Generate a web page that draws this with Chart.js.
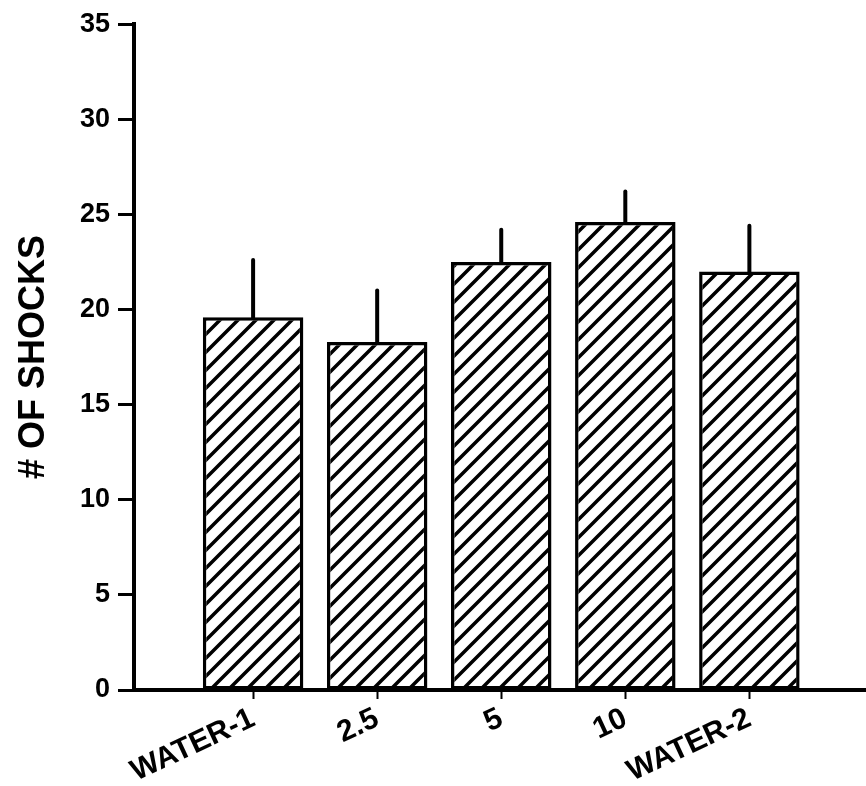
<!DOCTYPE html>
<html>
<head>
<meta charset="utf-8">
<script src="https://cdn.jsdelivr.net/npm/chart.js@4/dist/chart.umd.min.js"></script>
<style>
  html, body { margin: 0; padding: 0; background: #fff; }
  #wrap { width: 866px; height: 786px; }
</style>
</head>
<body>
<div id="wrap"><canvas id="c" width="866" height="786"></canvas></div>
<script>
// Groups along the x axis
const categories = ['WATER-1', '2.5', '5', '10', 'WATER-2'];
// Mean number of shocks per group
const shocks = [19.6, 18.3, 22.5, 24.6, 22.0];
// Standard error (drawn upward only)
const shockErrors = [3.0, 2.7, 1.7, 1.6, 2.4];
// Y axis ticks
const yTicks = [0, 5, 10, 15, 20, 25, 30, 35];

const INK = '#000';

// Diagonal "/" hatching used to fill the bars
function makeHatch() {
  const s = 18;
  const p = document.createElement('canvas');
  p.width = s; p.height = s;
  const g = p.getContext('2d');
  g.fillStyle = '#fff';
  g.fillRect(0, 0, s, s);
  g.strokeStyle = INK;
  g.lineWidth = 3.5;
  g.lineCap = 'square';
  g.beginPath();
  g.moveTo(-2, s + 2); g.lineTo(s + 2, -2);
  g.moveTo(-2, 2); g.lineTo(2, -2);
  g.moveTo(s - 2, s + 2); g.lineTo(s + 2, s - 2);
  g.stroke();
  return g.createPattern(p, 'repeat');
}

// Upward error whiskers from the top of each bar
const errorWhiskers = {
  id: 'errorWhiskers',
  afterDatasetsDraw(chart) {
    const ctx = chart.ctx;
    const yScale = chart.scales.y;
    const meta = chart.getDatasetMeta(0);
    ctx.save();
    ctx.strokeStyle = INK;
    ctx.lineWidth = 4;
    ctx.lineCap = 'round';
    meta.data.forEach((bar, i) => {
      const top = yScale.getPixelForValue(shocks[i] + shockErrors[i]);
      ctx.beginPath();
      ctx.moveTo(bar.x, bar.y);
      ctx.lineTo(bar.x, top);
      ctx.stroke();
    });
    ctx.restore();
  }
};

const labelFont = { family: '"Liberation Sans", Arial, sans-serif', weight: 'bold' };

new Chart(document.getElementById('c'), {
  type: 'bar',
  data: {
    datasets: [{
      data: shocks.map((v, i) => ({ x: i + 1, y: v })),
      backgroundColor: makeHatch(),
      borderColor: INK,
      borderWidth: 3.5,
      borderSkipped: false,
      categoryPercentage: 1,
      barPercentage: 0.81
    }]
  },
  options: {
    responsive: false,
    animation: false,
    layout: { padding: { top: 18, right: 0, bottom: 0, left: 0 } },
    plugins: { legend: { display: false }, tooltip: { enabled: false } },
    scales: {
      x: {
        type: 'linear',
        min: 0.04,
        max: 5.94,
        offset: false,
        afterBuildTicks(scale) {
          scale.ticks = categories.map((_, i) => ({ value: i + 1 }));
        },
        afterFit(scale) { scale.height = 96; },
        border: { display: true, color: INK, width: 4 },
        grid: {
          display: true, offset: false, drawOnChartArea: false, drawTicks: true,
          tickLength: 9, tickWidth: 2, tickColor: INK
        },
        ticks: {
          autoSkip: false,
          includeBounds: false,
          minRotation: 25,
          maxRotation: 25,
          padding: 2,
          color: INK,
          font: { ...labelFont, size: 30 },
          callback: (v) => categories[Math.round(v) - 1] ?? ''
        }
      },
      y: {
        min: 0,
        max: 35,
        afterBuildTicks(scale) {
          scale.ticks = yTicks.map(v => ({ value: v }));
        },
        afterFit(scale) { scale.width = 134; },
        border: { display: true, color: INK, width: 4 },
        grid: {
          display: true, drawOnChartArea: false, drawTicks: true,
          tickLength: 16, tickWidth: 3, tickColor: INK
        },
        ticks: {
          padding: 8,
          color: INK,
          font: { ...labelFont, size: 27 }
        },
        title: {
          display: true,
          text: '# OF SHOCKS',
          color: INK,
          font: { family: '"Liberation Sans", Arial, sans-serif', size: 36, weight: 'bold' },
          padding: { top: 12, bottom: 0 }
        }
      }
    }
  },
  plugins: [errorWhiskers]
});
</script>
</body>
</html>
